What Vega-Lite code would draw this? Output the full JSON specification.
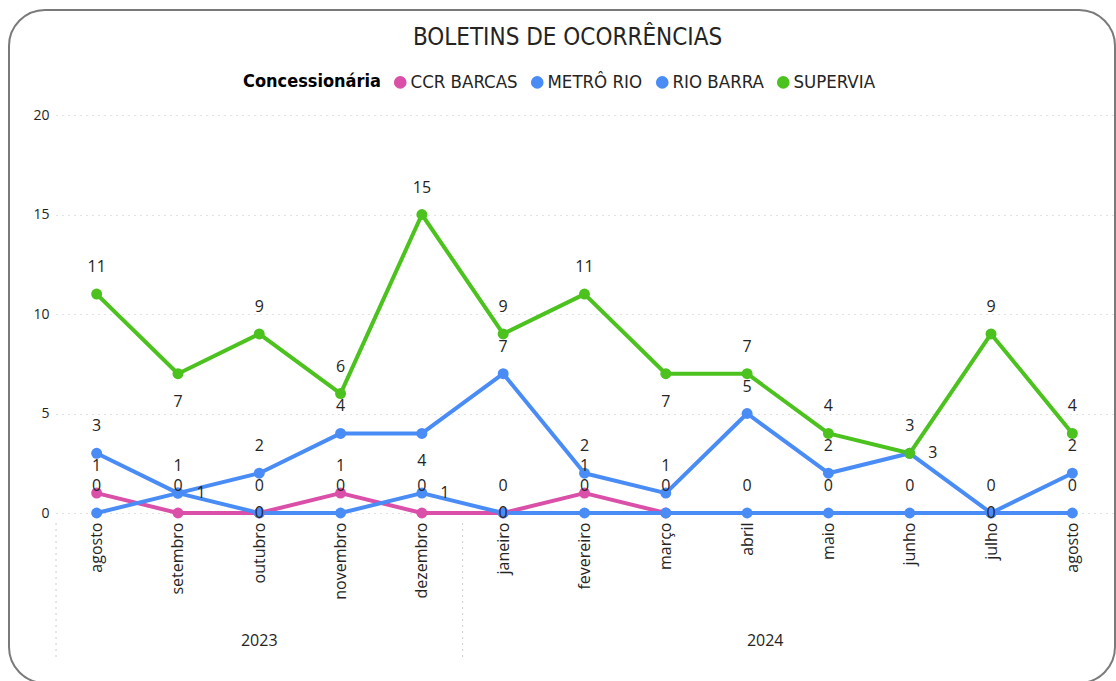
{
  "$schema": "https://vega.github.io/schema/vega-lite/v6.json",
  "autosize": "none",
  "width": 1057,
  "height": 398,
  "padding": {"left": 56, "top": 115, "right": 3, "bottom": 168},
  "background": "white",
  "title": {
    "text": "BOLETINS DE OCORRÊNCIAS",
    "anchor": "middle",
    "font": "DejaVu Sans Condensed",
    "fontSize": 24,
    "fontWeight": "normal",
    "color": "#252423",
    "baseline": "alphabetic",
    "offset": -60,
    "dx": -17
  },
  "config": {
    "view": {"stroke": null},
    "font": "Open Sans"
  },
  "data": {
    "values": [
      {"ano": "2023", "mes": "agosto", "n": 0, "serie": "CCR BARCAS", "valor": 1},
      {"ano": "2023", "mes": "setembro", "n": 1, "serie": "CCR BARCAS", "valor": 0},
      {"ano": "2023", "mes": "outubro", "n": 2, "serie": "CCR BARCAS", "valor": 0},
      {"ano": "2023", "mes": "novembro", "n": 3, "serie": "CCR BARCAS", "valor": 1},
      {"ano": "2023", "mes": "dezembro", "n": 4, "serie": "CCR BARCAS", "valor": 0},
      {"ano": "2024", "mes": "janeiro", "n": 5, "serie": "CCR BARCAS", "valor": 0},
      {"ano": "2024", "mes": "fevereiro", "n": 6, "serie": "CCR BARCAS", "valor": 1},
      {"ano": "2024", "mes": "março", "n": 7, "serie": "CCR BARCAS", "valor": 0},
      {"ano": "2023", "mes": "agosto", "n": 0, "serie": "METRÔ RIO", "valor": 3},
      {"ano": "2023", "mes": "setembro", "n": 1, "serie": "METRÔ RIO", "valor": 1},
      {"ano": "2023", "mes": "outubro", "n": 2, "serie": "METRÔ RIO", "valor": 2},
      {"ano": "2023", "mes": "novembro", "n": 3, "serie": "METRÔ RIO", "valor": 4},
      {"ano": "2023", "mes": "dezembro", "n": 4, "serie": "METRÔ RIO", "valor": 4},
      {"ano": "2024", "mes": "janeiro", "n": 5, "serie": "METRÔ RIO", "valor": 7},
      {"ano": "2024", "mes": "fevereiro", "n": 6, "serie": "METRÔ RIO", "valor": 2},
      {"ano": "2024", "mes": "março", "n": 7, "serie": "METRÔ RIO", "valor": 1},
      {"ano": "2024", "mes": "abril", "n": 8, "serie": "METRÔ RIO", "valor": 5},
      {"ano": "2024", "mes": "maio", "n": 9, "serie": "METRÔ RIO", "valor": 2},
      {"ano": "2024", "mes": "junho", "n": 10, "serie": "METRÔ RIO", "valor": 3},
      {"ano": "2024", "mes": "julho", "n": 11, "serie": "METRÔ RIO", "valor": 0},
      {"ano": "2024", "mes": "agosto", "n": 12, "serie": "METRÔ RIO", "valor": 2},
      {"ano": "2023", "mes": "agosto", "n": 0, "serie": "RIO BARRA", "valor": 0},
      {"ano": "2023", "mes": "setembro", "n": 1, "serie": "RIO BARRA", "valor": 1},
      {"ano": "2023", "mes": "outubro", "n": 2, "serie": "RIO BARRA", "valor": 0},
      {"ano": "2023", "mes": "novembro", "n": 3, "serie": "RIO BARRA", "valor": 0},
      {"ano": "2023", "mes": "dezembro", "n": 4, "serie": "RIO BARRA", "valor": 1},
      {"ano": "2024", "mes": "janeiro", "n": 5, "serie": "RIO BARRA", "valor": 0},
      {"ano": "2024", "mes": "fevereiro", "n": 6, "serie": "RIO BARRA", "valor": 0},
      {"ano": "2024", "mes": "março", "n": 7, "serie": "RIO BARRA", "valor": 0},
      {"ano": "2024", "mes": "abril", "n": 8, "serie": "RIO BARRA", "valor": 0},
      {"ano": "2024", "mes": "maio", "n": 9, "serie": "RIO BARRA", "valor": 0},
      {"ano": "2024", "mes": "junho", "n": 10, "serie": "RIO BARRA", "valor": 0},
      {"ano": "2024", "mes": "julho", "n": 11, "serie": "RIO BARRA", "valor": 0},
      {"ano": "2024", "mes": "agosto", "n": 12, "serie": "RIO BARRA", "valor": 0},
      {"ano": "2023", "mes": "agosto", "n": 0, "serie": "SUPERVIA", "valor": 11},
      {"ano": "2023", "mes": "setembro", "n": 1, "serie": "SUPERVIA", "valor": 7},
      {"ano": "2023", "mes": "outubro", "n": 2, "serie": "SUPERVIA", "valor": 9},
      {"ano": "2023", "mes": "novembro", "n": 3, "serie": "SUPERVIA", "valor": 6},
      {"ano": "2023", "mes": "dezembro", "n": 4, "serie": "SUPERVIA", "valor": 15},
      {"ano": "2024", "mes": "janeiro", "n": 5, "serie": "SUPERVIA", "valor": 9},
      {"ano": "2024", "mes": "fevereiro", "n": 6, "serie": "SUPERVIA", "valor": 11},
      {"ano": "2024", "mes": "março", "n": 7, "serie": "SUPERVIA", "valor": 7},
      {"ano": "2024", "mes": "abril", "n": 8, "serie": "SUPERVIA", "valor": 7},
      {"ano": "2024", "mes": "maio", "n": 9, "serie": "SUPERVIA", "valor": 4},
      {"ano": "2024", "mes": "junho", "n": 10, "serie": "SUPERVIA", "valor": 3},
      {"ano": "2024", "mes": "julho", "n": 11, "serie": "SUPERVIA", "valor": 9},
      {"ano": "2024", "mes": "agosto", "n": 12, "serie": "SUPERVIA", "valor": 4}
    ]
  },
  "encoding": {
    "x": {
      "field": "n",
      "type": "quantitative",
      "scale": {"domain": [-0.5, 12.5], "nice": false, "zero": false},
      "axis": {
        "title": null,
        "values": [0, 1, 2, 3, 4, 5, 6, 7, 8, 9, 10, 11, 12],
        "labelExpr": "['agosto','setembro','outubro','novembro','dezembro','janeiro','fevereiro','março','abril','maio','junho','julho','agosto'][datum.value]",
        "labelAngle": 270,
        "labelAlign": "right",
        "labelBaseline": "middle",
        "labelPadding": 9,
        "labelFontSize": 16,
        "labelColor": "#252423",
        "labelFont": "Open Sans",
        "grid": false,
        "domain": false,
        "ticks": false
      }
    },
    "y": {
      "field": "valor",
      "type": "quantitative",
      "scale": {"domain": [0, 20], "nice": false},
      "axis": {
        "title": null,
        "values": [0, 5, 10, 15, 20],
        "labelPadding": 7,
        "labelFontSize": 14,
        "labelColor": "#252423",
        "labelFont": "Open Sans",
        "grid": true,
        "gridColor": "#c8c8c8",
        "gridDash": [1, 5],
        "gridWidth": 1.2,
        "domain": false,
        "ticks": false
      }
    }
  },
  "layer": [
    {
      "mark": {"type": "line", "strokeWidth": 4, "strokeJoin": "round", "strokeCap": "round", "point": {"filled": true, "size": 120, "opacity": 1}},
      "encoding": {
        "color": {
          "field": "serie",
          "type": "nominal",
          "scale": {
            "domain": ["CCR BARCAS", "METRÔ RIO", "RIO BARRA", "SUPERVIA"],
            "range": ["#DA4FA7", "#4A8CF6", "#4A8CF6", "#4CC21E"]
          },
          "legend": {
            "title": "Concessionária",
            "orient": "none",
            "legendX": 187,
            "legendY": -42,
            "direction": "horizontal",
            "titleOrient": "left",
            "titleFont": "DejaVu Sans Condensed",
            "titleFontSize": 18,
            "titleFontWeight": "bold",
            "titleColor": "#000000",
            "titlePadding": 10,
            "labelFont": "DejaVu Sans Condensed",
            "labelFontSize": 18.5,
            "labelColor": "#252423",
            "labelOffset": 1,
            "symbolType": "circle",
            "symbolSize": 160,
            "symbolStrokeWidth": 0,
            "columnPadding": 10
          }
        }
      }
    },
    {
      "transform": [{"filter": "indexof(['SUPERVIA|1','SUPERVIA|7','METRÔ RIO|4','RIO BARRA|1','RIO BARRA|4','METRÔ RIO|10','RIO BARRA|2','RIO BARRA|5','METRÔ RIO|11','CCR BARCAS|7'], datum.serie + '|' + datum.n) < 0"}],
      "mark": {"type": "text", "dy": -27, "baseline": "middle", "align": "center", "fontSize": 16, "color": "#252423", "font": "Open Sans"},
      "encoding": {"text": {"field": "valor", "type": "quantitative"}}
    },
    {
      "transform": [{"filter": "indexof(['SUPERVIA|1','SUPERVIA|7','METRÔ RIO|4'], datum.serie + '|' + datum.n) >= 0"}],
      "mark": {"type": "text", "dy": 28, "baseline": "middle", "align": "center", "fontSize": 16, "color": "#252423", "font": "Open Sans"},
      "encoding": {"text": {"field": "valor", "type": "quantitative"}}
    },
    {
      "transform": [{"filter": "indexof(['RIO BARRA|1','RIO BARRA|4','METRÔ RIO|10'], datum.serie + '|' + datum.n) >= 0"}],
      "mark": {"type": "text", "dx": 23, "dy": 0, "baseline": "middle", "align": "center", "fontSize": 16, "color": "#252423", "font": "Open Sans"},
      "encoding": {"text": {"field": "valor", "type": "quantitative"}}
    },
    {
      "transform": [{"filter": "indexof(['RIO BARRA|2','RIO BARRA|5','METRÔ RIO|11'], datum.serie + '|' + datum.n) >= 0"}],
      "mark": {"type": "text", "dy": 0, "baseline": "middle", "align": "center", "fontSize": 16, "color": "#252423", "font": "Open Sans"},
      "encoding": {"text": {"field": "valor", "type": "quantitative"}}
    },
    {
      "transform": [{"aggregate": [{"op": "mean", "field": "n", "as": "meio"}], "groupby": ["ano"]}],
      "mark": {"type": "text", "baseline": "middle", "align": "center", "fontSize": 16, "color": "#252423", "font": "Open Sans"},
      "encoding": {
        "x": {"field": "meio", "type": "quantitative"},
        "y": {"value": 526},
        "text": {"field": "ano", "type": "nominal"}
      }
    },
    {
      "transform": [{"aggregate": [{"op": "min", "field": "n", "as": "inicio"}], "groupby": ["ano"]}],
      "mark": {"type": "rule", "xOffset": -40.6, "strokeDash": [2, 4], "color": "#cfcfcf", "strokeWidth": 1},
      "encoding": {
        "x": {"field": "inicio", "type": "quantitative"},
        "y": {"value": 408},
        "y2": {"value": 545}
      }
    },
    {
      "data": {"values": [{}]},
      "mark": {"type": "rect", "cornerRadius": 36, "fill": null, "fillOpacity": 0, "stroke": "#7a7a7a", "strokeWidth": 2},
      "encoding": {
        "x": {"value": -47},
        "x2": {"value": 1059},
        "y": {"value": -105},
        "y2": {"value": 568}
      }
    }
  ]
}
